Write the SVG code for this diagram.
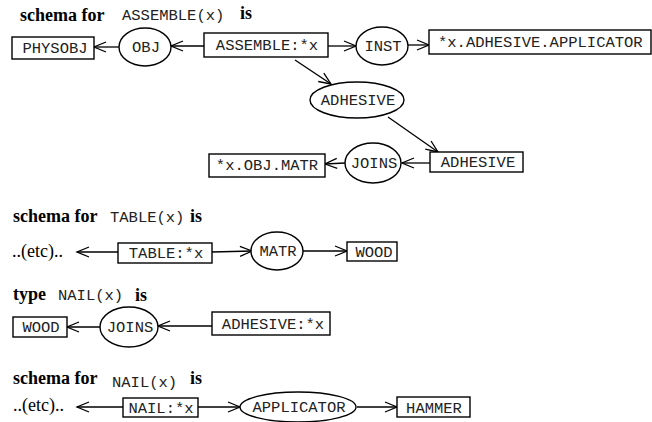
<svg xmlns="http://www.w3.org/2000/svg" width="652" height="422" viewBox="0 0 652 422">
<style>
.bx{fill:#fff;stroke:#000;stroke-width:1.4}
.el{fill:#fff;stroke:#000;stroke-width:1.4}
.m{font-family:"Liberation Mono","Courier New",monospace;font-size:15.5px;fill:#222}
.c{text-anchor:middle}
.b{font-family:"Liberation Serif","Times New Roman",serif;font-size:18px;font-weight:bold;fill:#000}
.r{font-family:"Liberation Serif","Times New Roman",serif;font-size:18px;fill:#000}
.cn line{stroke:#000;stroke-width:1.3;marker-end:url(#ah)}
</style>
<defs>
<marker id="ah" markerUnits="userSpaceOnUse" markerWidth="14" markerHeight="12" refX="12" refY="5" orient="auto" overflow="visible">
<path d="M0,0 L12,5 L0,10" fill="none" stroke="#000" stroke-width="1.3"/>
</marker>
</defs>

<!-- titles -->
<g id="title1"><text class="b" x="20" y="21">schema for</text><text class="m" x="122" y="20">ASSEMBLE(x)</text><text class="b" x="240" y="19">is</text></g>
<g id="title2"><text class="b" x="13" y="222">schema for</text><text class="m" x="110" y="222">TABLE(x)</text><text class="b" x="190" y="222">is</text></g>
<g id="title3"><text class="b" x="13" y="300">type</text><text class="m" x="58" y="300">NAIL(x)</text><text class="b" x="135" y="301">is</text></g>
<g id="title4"><text class="b" x="13" y="384">schema for</text><text class="m" x="112" y="387">NAIL(x)</text><text class="b" x="190" y="384">is</text></g>

<!-- connectors -->
<g class="cn" id="connectors">
<line x1="204" y1="46" x2="171" y2="46"/>
<line x1="119" y1="47" x2="94" y2="47"/>
<line x1="328" y1="46" x2="356" y2="46"/>
<line x1="408" y1="45" x2="429" y2="45"/>
<line x1="295" y1="60" x2="331" y2="84"/>
<line x1="388" y1="117" x2="438" y2="152"/>
<line x1="430" y1="163" x2="402" y2="163"/>
<line x1="345" y1="163" x2="325" y2="164"/>
<line x1="118" y1="252" x2="77" y2="252"/>
<line x1="212" y1="252" x2="252" y2="251"/>
<line x1="303" y1="251" x2="347" y2="251"/>
<line x1="212" y1="326" x2="158" y2="326"/>
<line x1="100" y1="327" x2="67" y2="327"/>
<line x1="123" y1="407" x2="77" y2="407"/>
<line x1="198" y1="407" x2="240" y2="407"/>
<line x1="357" y1="407" x2="397" y2="407"/>
</g>

<!-- schema ASSEMBLE -->
<g id="physobj"><rect class="bx" x="12" y="37" width="82" height="22"/><text class="m c" x="55" y="53">PHYSOBJ</text></g>
<g id="obj"><ellipse class="el" cx="145" cy="47" rx="26" ry="19"/><text class="m c" x="146" y="52">OBJ</text></g>
<g id="assemble"><rect class="bx" x="204" y="33" width="124" height="24"/><text class="m c" x="267" y="50">ASSEMBLE:*x</text></g>
<g id="inst"><ellipse class="el" cx="382" cy="46" rx="26" ry="19"/><text class="m c" x="383" y="51">INST</text></g>
<g id="applicator1"><rect class="bx" x="429" y="30" width="222" height="24"/><text class="m" x="438" y="47">*x.ADHESIVE.APPLICATOR</text></g>
<g id="adhesive-rel"><ellipse class="el" cx="357" cy="100" rx="47" ry="18"/><text class="m c" x="358" y="105">ADHESIVE</text></g>
<g id="adhesive-box"><rect class="bx" x="430" y="152" width="93" height="20"/><text class="m c" x="478" y="167">ADHESIVE</text></g>
<g id="joins1"><ellipse class="el" cx="373" cy="163" rx="28" ry="20"/><text class="m c" x="374" y="168">JOINS</text></g>
<g id="objmatr"><rect class="bx" x="209" y="154" width="116" height="23"/><text class="m c" x="267" y="170">*x.OBJ.MATR</text></g>

<!-- schema TABLE -->
<g id="etc1"><text class="r" x="12" y="257">..(etc)..</text></g>
<g id="table"><rect class="bx" x="118" y="243" width="94" height="20"/><text class="m c" x="166" y="258">TABLE:*x</text></g>
<g id="matr"><ellipse class="el" cx="277" cy="251" rx="26" ry="19"/><text class="m c" x="278" y="256">MATR</text></g>
<g id="wood1"><rect class="bx" x="347" y="242" width="50" height="19"/><text class="m c" x="374" y="257">WOOD</text></g>

<!-- type NAIL -->
<g id="wood2"><rect class="bx" x="13" y="317" width="54" height="20"/><text class="m c" x="41" y="332">WOOD</text></g>
<g id="joins2"><ellipse class="el" cx="129" cy="327" rx="29" ry="20"/><text class="m c" x="130" y="332">JOINS</text></g>
<g id="adhesivex"><rect class="bx" x="212" y="312" width="118" height="23"/><text class="m c" x="273" y="329">ADHESIVE:*x</text></g>

<!-- schema NAIL -->
<g id="etc2"><text class="r" x="13" y="411">..(etc)..</text></g>
<g id="nail"><rect class="bx" x="123" y="398" width="75" height="19"/><text class="m c" x="161" y="413">NAIL:*x</text></g>
<g id="applicator2"><ellipse class="el" cx="298" cy="407" rx="58" ry="15"/><text class="m c" x="299" y="412">APPLICATOR</text></g>
<g id="hammer"><rect class="bx" x="397" y="397" width="73" height="20"/><text class="m c" x="434" y="413">HAMMER</text></g>
</svg>
